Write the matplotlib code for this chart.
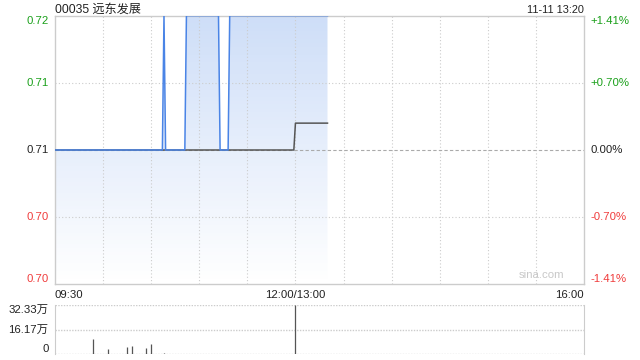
import numpy as np
import matplotlib
matplotlib.use('Agg')
import matplotlib.pyplot as plt
from matplotlib.patches import Polygon

plt.rcParams['font.family'] = ['Liberation Sans', 'Noto Sans CJK SC', 'DejaVu Sans']

# 分时数据（分钟序号，09:30 = 0，13:00 = 150）
title = '00035 远东发展'
stamp = '11-11 13:20'
prev_close = 0.71
price_min = [0, 67, 68, 69, 81, 82, 102, 103, 108, 109, 170]
price_val = [0.71, 0.71, 0.72, 0.71, 0.71, 0.72, 0.72, 0.71, 0.71, 0.72, 0.72]
avg_min = [0, 149, 150, 170]
avg_val = [0.71, 0.71, 0.7120, 0.7120]

vol_min = [24, 33, 45, 48, 57, 60, 68, 150]
vol_val = [98000, 35000, 48000, 56000, 41000, 67000, 9000, 323300]
small_min = [5, 12, 18, 28, 38, 52, 64, 72, 80, 88, 95, 101, 110, 118, 125, 133, 140, 147, 155, 162, 168]
small_val = [2500, 2000, 3000, 2000, 2500, 3000, 2000, 3500, 2000, 2500, 2000, 3000, 2000, 2500, 2000, 3000, 2000, 2500, 2000, 3000, 2000]

y_ticks = [0.70, 0.705, 0.71, 0.715, 0.72]
y_labels = ['0.70', '0.70', '0.71', '0.71', '0.72']
pct_labels = ['-1.41%', '-0.70%', '0.00%', '+0.70%', '+1.41%']
vol_ticks = [0, 161700, 323300]
vol_labels = ['0', '16.17万', '32.33万']

green = '#1aa01a'
red = '#f03c3c'
blue = '#4a84e6'
frame = '#cccccc'
fs = 8.2

# 逐分钟展开成阶梯
t = np.arange(0, 171)
price = np.interp(t, price_min, price_val)
avg = np.interp(t, avg_min, avg_val)

fig = plt.figure(figsize=(6.4, 3.6), dpi=100)
ax = fig.add_axes([0.0859, 0.2103, 0.8266, 0.7461])
ax2 = fig.add_axes([0.0859, 0.0158, 0.8266, 0.1370])

for s in ax.spines.values():
    s.set_color(frame)
    s.set_linewidth(1)
ax.set_xticks([])
ax.set_yticks([])

for m in range(30, 330, 30):
    ax.axvline(m, color='#cccccc', lw=0.8, ls=(0, (1, 2)))
for yv in [0.705, 0.715]:
    ax.axhline(yv, color='#cccccc', lw=0.8, ls=(0, (1, 2)))
ax.axhline(prev_close, color='#aaaaaa', lw=0.8, ls=(0, (3, 2)))

# 渐变填充
verts = [(t[0], 0.70)] + list(zip(t, price)) + [(t[-1], 0.70)]
poly = Polygon(verts, closed=True, facecolor='none', edgecolor='none')
ax.add_patch(poly)
grad = np.zeros((100, 1, 4))
grad[:, 0, 0] = 0.29
grad[:, 0, 1] = 0.52
grad[:, 0, 2] = 0.90
grad[:, 0, 3] = np.linspace(0.27, 0.0, 100)
im = ax.imshow(grad, aspect='auto', extent=[0, 330, 0.70, 0.72], origin='upper', zorder=1)
im.set_clip_path(poly)
ax.set_xlim(0, 330)
ax.set_ylim(0.70, 0.72)

ax.plot(t, avg, color='#555555', lw=1.1, zorder=3)
ax.plot(t, price, color=blue, lw=1.1, zorder=4)

ax.text(318, 0.7003, 'sina.com', color='#c8c8c8', fontsize=fs, ha='right', va='bottom')

# 左右刻度
for yv, lab, pl in zip(y_ticks, y_labels, pct_labels):
    if yv > prev_close + 1e-9:
        c = green
    elif yv < prev_close - 1e-9:
        c = red
    else:
        c = '#222222'
    if yv == 0.72:
        va = 'top'
    elif yv == 0.70:
        va = 'bottom'
    else:
        va = 'center'
    ax.text(-4, yv, lab, color=c, fontsize=fs, ha='right', va=va)
    ax.text(334, yv, pl, color=c, fontsize=fs, ha='left', va=va)

fig.text(0.0859, 0.972, title, fontsize=8.7, ha='left', va='center', color='#222222')
fig.text(0.9125, 0.972, stamp, fontsize=7.8, ha='right', va='center', color='#222222')

xl_y = 0.70 - 0.00078
ax.text(0, xl_y, '09:30', fontsize=fs, ha='left', va='center', color='#222222')
ax.text(150, xl_y, '12:00/13:00', fontsize=fs, ha='center', va='center', color='#222222')
ax.text(330, xl_y, '16:00', fontsize=fs, ha='right', va='center', color='#222222')

# 成交量
ax2.set_xlim(0, 330)
ax2.set_ylim(0, 323300)
ax2.set_xticks([])
ax2.set_yticks([])
ax2.spines['left'].set_color(frame)
ax2.spines['right'].set_color(frame)
ax2.spines['top'].set_visible(False)
ax2.spines['bottom'].set_visible(False)
ax2.axhline(323300, color='#cccccc', lw=1, ls=(0, (1, 1)))
ax2.axhline(161700, color='#cccccc', lw=1, ls=(0, (1, 1)))
ax2.axhline(0, color='#cccccc', lw=1, ls=(0, (1, 1)))
ax2.vlines(small_min, 0, small_val, color='#555555', lw=0.8)
ax2.vlines(vol_min, 0, vol_val, color='#555555', lw=0.9)
for v, lab in zip(vol_ticks, vol_labels):
    if v == 0:
        va = 'bottom'
    elif v == 323300:
        va = 'top'
    else:
        va = 'center'
    ax2.text(-4, v, lab, fontsize=fs, ha='right', va=va, color='#222222')

fig.savefig('out.png', dpi=100)
